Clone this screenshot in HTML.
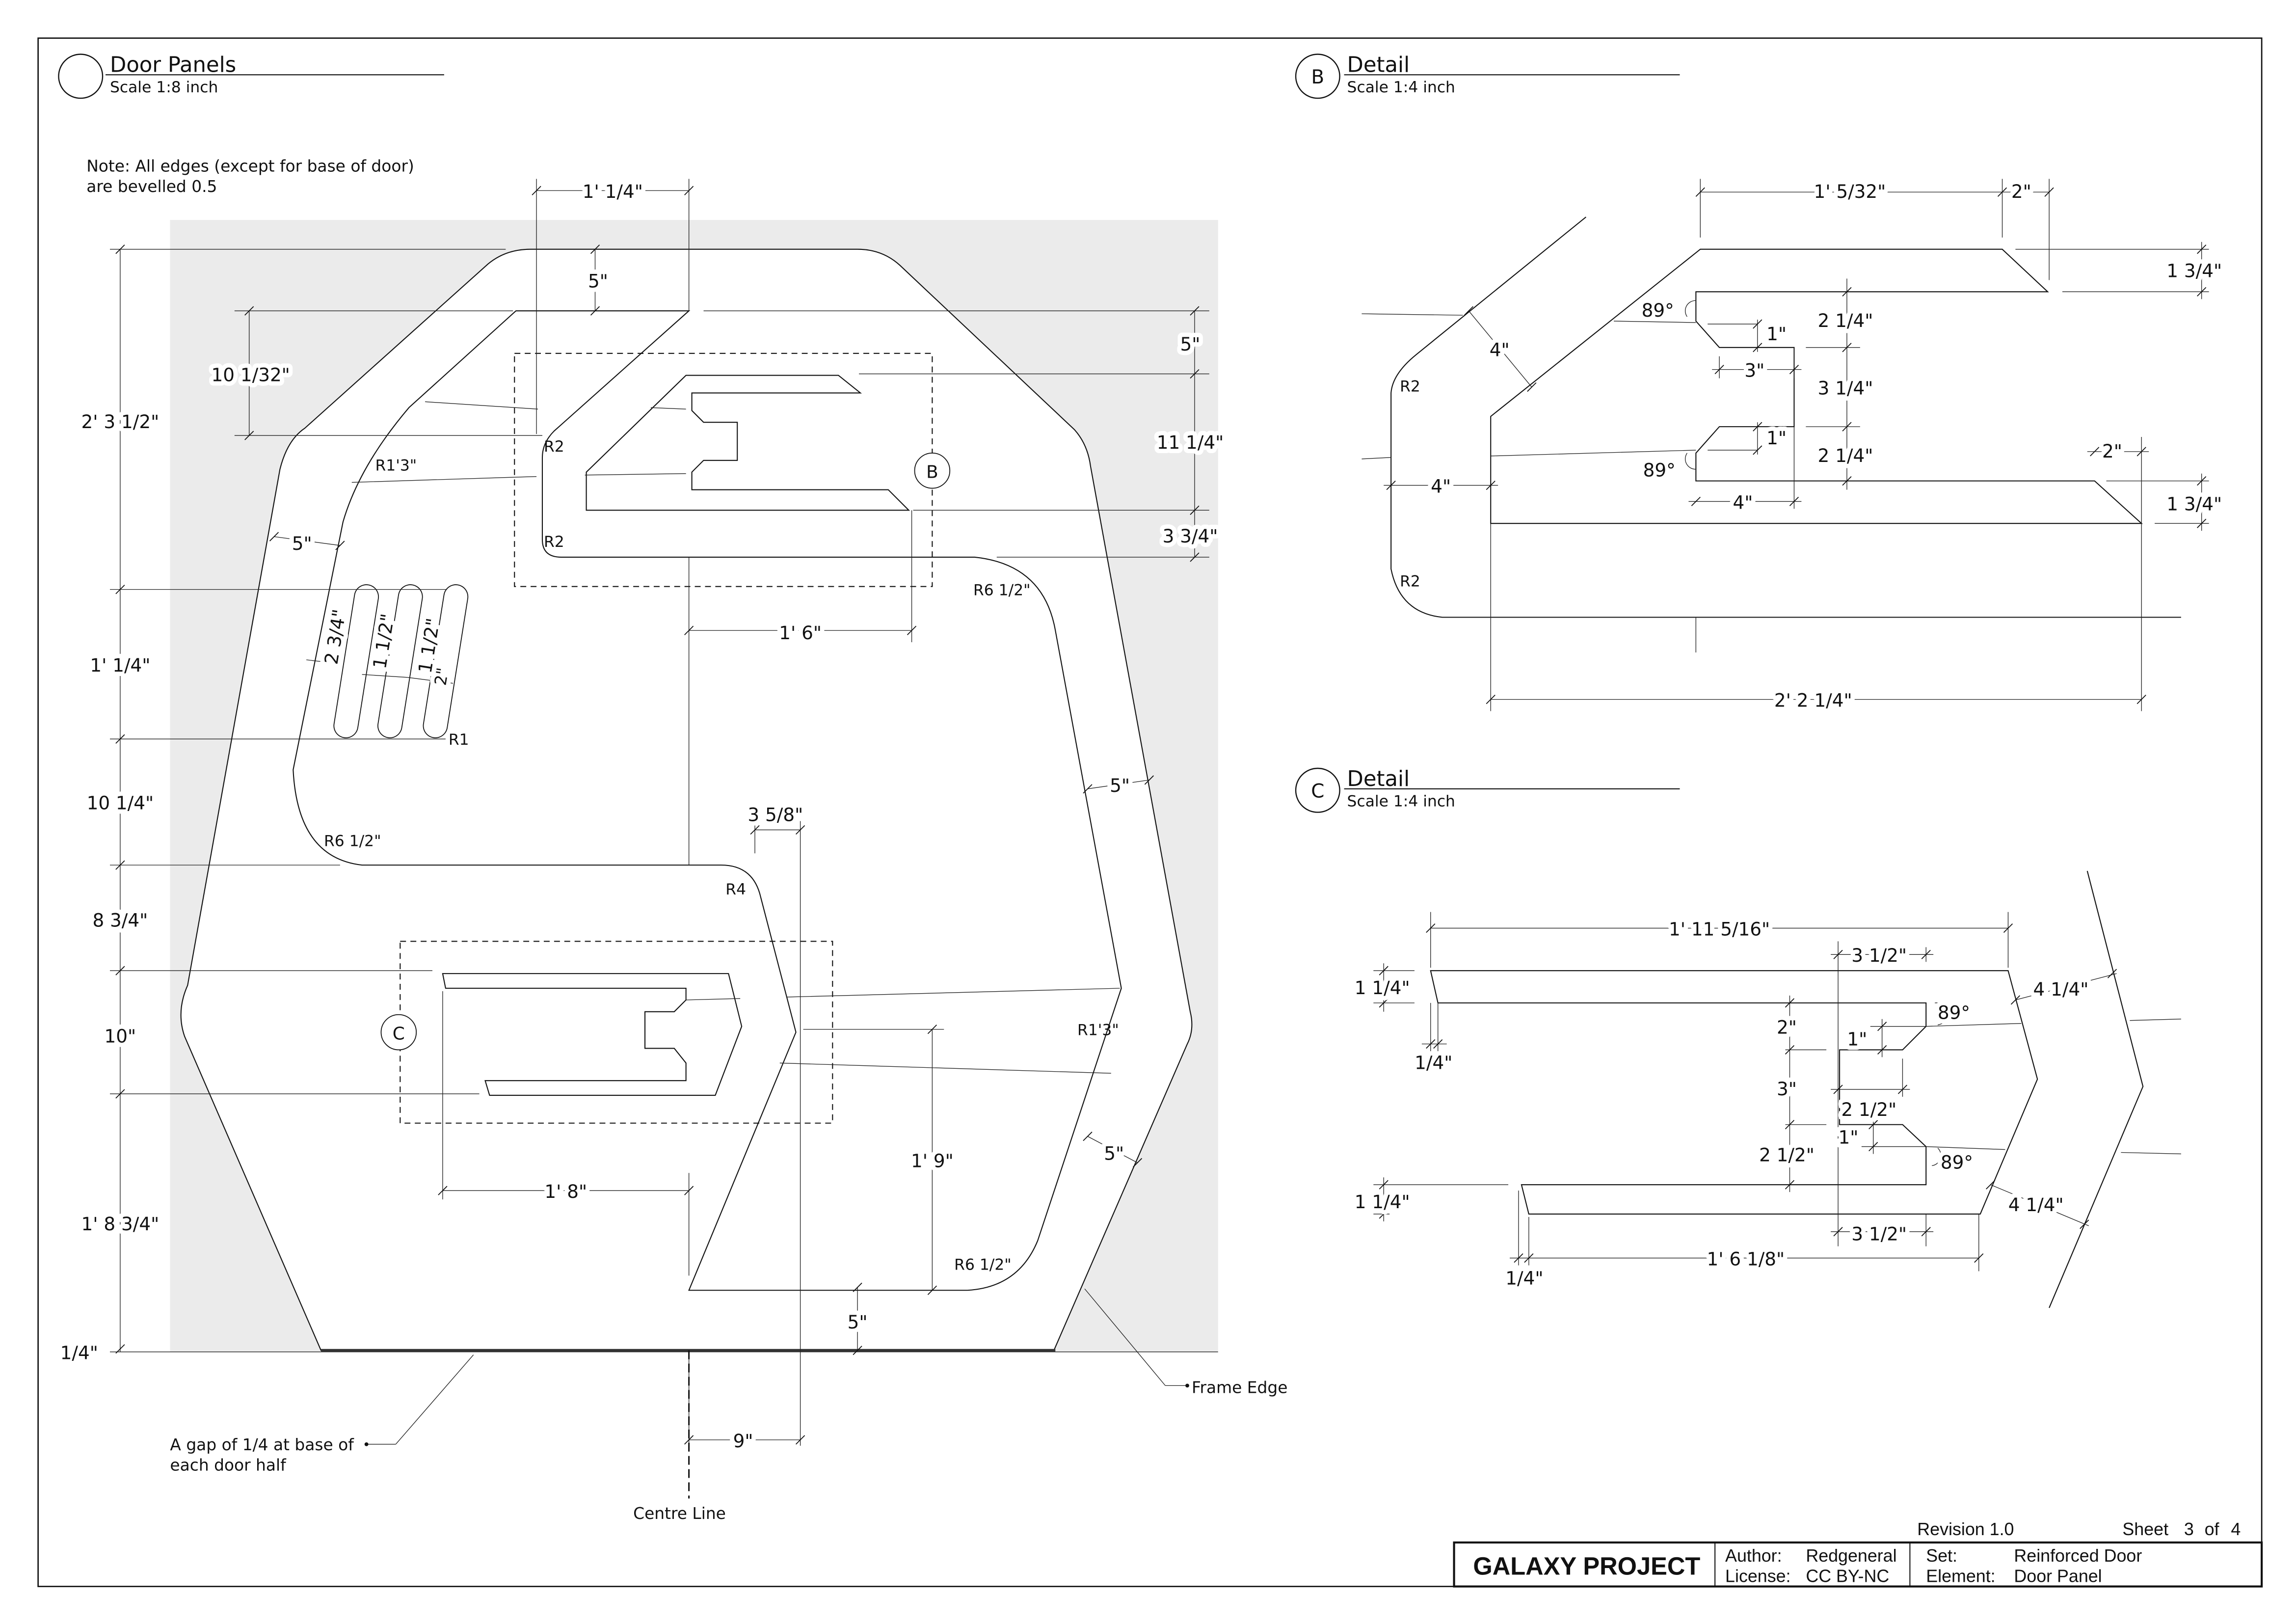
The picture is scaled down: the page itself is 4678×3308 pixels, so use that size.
<!DOCTYPE html>
<html><head><meta charset="utf-8"><style>
html,body{margin:0;padding:0;background:#fff;overflow:hidden}
svg{display:block}
text{font-family:"DejaVu Sans","Liberation Sans",sans-serif;fill:#111}
.d{font-size:12.5px;text-anchor:middle;paint-order:stroke;stroke:#fff;stroke-width:6px;stroke-linejoin:round}
.r{font-size:10.5px}
.l{fill:none;stroke:#111;stroke-width:0.7}
.e{fill:none;stroke:#222;stroke-width:0.45}
.tb{font-family:"Liberation Sans",sans-serif;font-size:12px}
</style></head><body>
<svg width="4678" height="3308" viewBox="0 0 1566.4 1107.6" preserveAspectRatio="none" xmlns="http://www.w3.org/2000/svg">
<defs><g id="t"><line x1="-3" y1="3" x2="3" y2="-3" stroke="#111" stroke-width="0.6"/></g></defs>
<rect x="0" y="0" width="1570" height="1110" fill="#fff"/>
<rect x="26" y="26" width="1517" height="1056" fill="none" stroke="#111" stroke-width="0.9"/>

<!-- Headers -->
<circle cx="55" cy="52" r="15" fill="none" stroke="#111" stroke-width="0.8"/>
<text x="75" y="49" font-size="14.5">Door Panels</text>
<line x1="72" y1="51" x2="303" y2="51" class="l"/>
<text x="75" y="63" font-size="10.5">Scale 1:8 inch</text>
<circle cx="899" cy="52" r="15" fill="none" stroke="#111" stroke-width="0.8"/>
<text x="899" y="57" font-size="13" text-anchor="middle">B</text>
<text x="919" y="49" font-size="14.5">Detail</text>
<line x1="917" y1="51" x2="1146" y2="51" class="l"/>
<text x="919" y="63" font-size="10.5">Scale 1:4 inch</text>
<circle cx="899" cy="539" r="15" fill="none" stroke="#111" stroke-width="0.8"/>
<text x="899" y="544" font-size="13" text-anchor="middle">C</text>
<text x="919" y="536" font-size="14.5">Detail</text>
<line x1="917" y1="538" x2="1146" y2="538" class="l"/>
<text x="919" y="550" font-size="10.5">Scale 1:4 inch</text>

<text x="59" y="117" font-size="11">Note: All edges (except for base of door)</text>
<text x="59" y="131" font-size="11">are bevelled 0.5</text>

<!-- Door main -->
<rect x="116" y="150" width="715" height="772" fill="#ebebeb"/>
<line x1="75" y1="922" x2="831" y2="922" class="e"/>
<path class="l" d="M219,921 L126,707 Q120,690 128,672 L191,320 Q196,300 208,292 L333,180 Q345,170 362,170 L585,170 Q602,170 614,181 L733,293 Q742,303 744,318 L812,690 Q815,702 810,712 L719,921 Z" style="fill:#fff"/>
<line x1="219" y1="921" x2="720" y2="921" stroke="#333" stroke-width="2"/>
<path class="l" d="M352,212 L470,212 L378,294 Q370,302 370,312 L370,368 Q370,380 383,380 L665,380 Q712,385 720,430 L765,674 L708,846 Q695,878 660,880 L470,880 L543,704 L519,612 Q514,590 492,590 L247,590 Q203,585 200,525 L234,356 Q245,318 279,278 Z"/>
<path class="l" d="M400,348 L400,322 L468,256 L572,256 L587,268 L472,268 L472,280 L480,288 L503,288 L503,314 L480,314 L472,322 L472,334 L606,334 L620,348 Z"/>
<path class="l" d="M302,664 L497,664 L506,700 L488,747 L334,747 L331,737 L468,737 L468,725 L460,715 L440,715 L440,690 L460,690 L468,682 L468,674 L304,674 Z"/>
<g stroke-linecap="round">
<line x1="250" y1="407" x2="236" y2="495" stroke="#111" stroke-width="17"/>
<line x1="280" y1="407" x2="266" y2="495" stroke="#111" stroke-width="17"/>
<line x1="311" y1="407" x2="297" y2="495" stroke="#111" stroke-width="17"/>
<line x1="250" y1="407" x2="236" y2="495" stroke="#fff" stroke-width="15.8"/>
<line x1="280" y1="407" x2="266" y2="495" stroke="#fff" stroke-width="15.8"/>
<line x1="311" y1="407" x2="297" y2="495" stroke="#fff" stroke-width="15.8"/>
</g>
<rect x="351" y="241" width="285" height="159" fill="none" stroke="#111" stroke-width="0.7" stroke-dasharray="4,3"/>
<rect x="273" y="642" width="295" height="124" fill="none" stroke="#111" stroke-width="0.7" stroke-dasharray="4,3"/>
<circle cx="636" cy="321" r="12" fill="#fff" stroke="#111" stroke-width="0.6"/>
<text x="636" y="326" font-size="12" text-anchor="middle" fill="#444">B</text>
<circle cx="272" cy="704" r="12" fill="#fff" stroke="#111" stroke-width="0.6"/>
<text x="272" y="709" font-size="12" text-anchor="middle" fill="#444">C</text>

<g class="e">
<line x1="75" y1="170" x2="345" y2="170"/>
<line x1="75" y1="402" x2="305" y2="402"/>
<line x1="75" y1="504" x2="304" y2="504"/>
<line x1="75" y1="590" x2="232" y2="590"/>
<line x1="75" y1="662" x2="295" y2="662"/>
<line x1="75" y1="746" x2="327" y2="746"/>
<line x1="82" y1="170" x2="82" y2="922"/>
<line x1="366" y1="122" x2="366" y2="296"/>
<line x1="470" y1="122" x2="470" y2="212"/>
<line x1="366" y1="130" x2="470" y2="130"/>
<line x1="406" y1="170" x2="406" y2="212"/>
<line x1="160" y1="212" x2="350" y2="212"/>
<line x1="480" y1="212" x2="825" y2="212"/>
<line x1="160" y1="297" x2="370" y2="297"/>
<line x1="170" y1="212" x2="170" y2="297"/>
<line x1="586" y1="255" x2="825" y2="255"/>
<line x1="623" y1="348" x2="825" y2="348"/>
<line x1="680" y1="380" x2="825" y2="380"/>
<line x1="815" y1="212" x2="815" y2="380"/>
<line x1="470" y1="380" x2="470" y2="590"/>
<line x1="470" y1="430" x2="622" y2="430"/>
<line x1="622" y1="348" x2="622" y2="438"/>
<line x1="290" y1="274" x2="367" y2="279"/>
<line x1="444" y1="278" x2="468" y2="279"/>
<line x1="240" y1="329" x2="366" y2="325"/>
<line x1="399" y1="324" x2="468" y2="323"/>
<line x1="515" y1="562" x2="515" y2="582"/>
<line x1="546" y1="560" x2="546" y2="986"/>
<line x1="515" y1="566" x2="546" y2="566"/>
<line x1="468" y1="682" x2="505" y2="681"/>
<line x1="537" y1="680" x2="764" y2="674"/>
<line x1="532" y1="725" x2="758" y2="732"/>
<line x1="548" y1="702" x2="644" y2="702"/>
<line x1="636" y1="702" x2="636" y2="880"/>
<line x1="302" y1="676" x2="302" y2="818"/>
<line x1="470" y1="800" x2="470" y2="870"/>
<line x1="302" y1="812" x2="470" y2="812"/>
<line x1="585" y1="878" x2="585" y2="921"/>
<line x1="470" y1="921" x2="470" y2="990"/>
<line x1="470" y1="982" x2="546" y2="982"/>
<line x1="187" y1="366" x2="232" y2="372"/>
<line x1="742" y1="538" x2="784" y2="532"/>
<line x1="742" y1="775" x2="776" y2="793"/>
<line x1="740" y1="879" x2="795" y2="945"/>
<line x1="795" y1="945" x2="810" y2="945"/>
<line x1="323" y1="924" x2="270" y2="985"/>
<line x1="270" y1="985" x2="250" y2="985"/>
<line x1="209" y1="450" x2="226" y2="452"/>
<line x1="247" y1="460" x2="278" y2="462"/>
<line x1="278" y1="462" x2="309" y2="466"/>
</g>
<line x1="470" y1="921" x2="470" y2="1022" stroke="#111" stroke-width="1" stroke-dasharray="6,3"/>
<circle cx="250" cy="985" r="1.3" fill="#111"/>
<circle cx="810" cy="945" r="1.3" fill="#111"/>
<g>
<use href="#t" x="82" y="170"/><use href="#t" x="82" y="402"/><use href="#t" x="82" y="504"/><use href="#t" x="82" y="590"/><use href="#t" x="82" y="662"/><use href="#t" x="82" y="746"/><use href="#t" x="82" y="920"/>
<use href="#t" x="366" y="130"/><use href="#t" x="470" y="130"/><use href="#t" x="406" y="170"/><use href="#t" x="406" y="212"/>
<use href="#t" x="170" y="212"/><use href="#t" x="170" y="297"/>
<use href="#t" x="815" y="212"/><use href="#t" x="815" y="255"/><use href="#t" x="815" y="348"/><use href="#t" x="815" y="380"/>
<use href="#t" x="470" y="430"/><use href="#t" x="622" y="430"/>
<use href="#t" x="515" y="566"/><use href="#t" x="546" y="566"/>
<use href="#t" x="302" y="812"/><use href="#t" x="470" y="812"/>
<use href="#t" x="636" y="702"/><use href="#t" x="636" y="880"/>
<use href="#t" x="585" y="878"/><use href="#t" x="585" y="921"/>
<use href="#t" x="470" y="982"/><use href="#t" x="546" y="982"/>
<use href="#t" x="187" y="366"/><use href="#t" x="232" y="372"/>
<use href="#t" x="742" y="538"/><use href="#t" x="784" y="532"/>
<use href="#t" x="742" y="775"/><use href="#t" x="776" y="793"/>
</g>
<g class="d">
<text x="418" y="135">1' 1/4"</text>
<text x="408" y="196">5"</text>
<text x="171" y="260">10 1/32"</text>
<text x="82" y="292">2' 3 1/2"</text>
<text x="82" y="458">1' 1/4"</text>
<text x="82" y="552">10 1/4"</text>
<text x="82" y="632">8 3/4"</text>
<text x="82" y="711">10"</text>
<text x="82" y="839">1' 8 3/4"</text>
<text x="54" y="927">1/4"</text>
<text x="812" y="239">5"</text>
<text x="812" y="306">11 1/4"</text>
<text x="812" y="370">3 3/4"</text>
<text x="546" y="436">1' 6"</text>
<text x="529" y="560">3 5/8"</text>
<text x="386" y="817">1' 8"</text>
<text x="636" y="796">1' 9"</text>
<text x="585" y="906">5"</text>
<text x="507" y="987">9"</text>
<text x="206" y="375">5"</text>
<text x="764" y="540">5"</text>
<text x="760" y="791">5"</text>
<text transform="translate(233,435) rotate(-81)">2 3/4"</text>
<text transform="translate(266,438) rotate(-81)">1 1/2"</text>
<text transform="translate(297,441) rotate(-81)">1 1/2"</text>
<text transform="translate(305,462) rotate(-81)" font-size="11">2"</text>
</g>
<g class="r">
<text x="371" y="308">R2</text>
<text x="371" y="373">R2</text>
<text x="256" y="321">R1'3"</text>
<text x="664" y="406">R6 1/2"</text>
<text x="306" y="508">R1</text>
<text x="221" y="577">R6 1/2"</text>
<text x="495" y="610">R4</text>
<text x="735" y="706">R1'3"</text>
<text x="651" y="866">R6 1/2"</text>
<text x="813" y="950" font-size="11">Frame Edge</text>
<text x="116" y="989" font-size="11">A gap of 1/4 at base of</text>
<text x="116" y="1003" font-size="11">each door half</text>
<text x="432" y="1036" font-size="11">Centre Line</text>
</g>

<!-- Detail B -->
<path class="l" d="M1082,148 L966,242 Q950,255 949,268 L949,388 Q955,418 984,421 L1488,421"/>
<path class="l" d="M1017,357 L1017,284 L1160,170 L1366,170 L1397,199 L1157,199 L1157,219 L1173,237 L1224,237 L1224,291 L1173,291 L1157,309 L1157,328 L1429,328 L1461,357 Z"/>
<g class="e">
<line x1="929" y1="214" x2="998" y2="215"/>
<line x1="1101" y1="219" x2="1157" y2="220"/>
<line x1="929" y1="313" x2="949" y2="312"/>
<line x1="1017" y1="311" x2="1157" y2="307"/>
<line x1="1165" y1="221" x2="1199" y2="221"/>
<line x1="1165" y1="307" x2="1199" y2="307"/>
<line x1="1160" y1="122" x2="1160" y2="162"/>
<line x1="1366" y1="122" x2="1366" y2="162"/>
<line x1="1398" y1="122" x2="1398" y2="191"/>
<line x1="1160" y1="131" x2="1398" y2="131"/>
<line x1="1375" y1="170" x2="1507" y2="170"/>
<line x1="1407" y1="199" x2="1507" y2="199"/>
<line x1="1502" y1="165" x2="1502" y2="204"/>
<line x1="1437" y1="328" x2="1507" y2="328"/>
<line x1="1470" y1="357" x2="1507" y2="357"/>
<line x1="1502" y1="323" x2="1502" y2="362"/>
<line x1="1461" y1="298" x2="1461" y2="485"/>
<line x1="1424" y1="308" x2="1466" y2="308"/>
<line x1="1260" y1="190" x2="1260" y2="334"/>
<line x1="1232" y1="237" x2="1269" y2="237"/>
<line x1="1232" y1="291" x2="1269" y2="291"/>
<line x1="1199" y1="218" x2="1199" y2="240"/>
<line x1="1199" y1="288" x2="1199" y2="310"/>
<line x1="1173" y1="243" x2="1173" y2="258"/>
<line x1="1224" y1="237" x2="1224" y2="258"/>
<line x1="1168" y1="252" x2="1229" y2="252"/>
<line x1="1224" y1="291" x2="1224" y2="347"/>
<line x1="1152" y1="342" x2="1229" y2="342"/>
<line x1="944" y1="331" x2="1022" y2="331"/>
<line x1="1002" y1="212" x2="1045" y2="264"/>
<line x1="1017" y1="357" x2="1017" y2="485"/>
<line x1="1017" y1="477" x2="1461" y2="477"/>
<line x1="1157" y1="421" x2="1157" y2="445"/>
</g>
<path d="M1157,205 A7,7 0 0 0 1151,216" class="e"/>
<path d="M1151,309 A7,7 0 0 0 1157,320" class="e"/>
<g>
<use href="#t" x="1160" y="131"/><use href="#t" x="1366" y="131"/><use href="#t" x="1398" y="131"/>
<use href="#t" x="1502" y="170"/><use href="#t" x="1502" y="199"/><use href="#t" x="1502" y="328"/><use href="#t" x="1502" y="357"/>
<use href="#t" x="1429" y="308"/><use href="#t" x="1461" y="308"/>
<use href="#t" x="1260" y="199"/><use href="#t" x="1260" y="237"/><use href="#t" x="1260" y="291"/><use href="#t" x="1260" y="328"/>
<use href="#t" x="1199" y="221"/><use href="#t" x="1199" y="237"/><use href="#t" x="1199" y="291"/><use href="#t" x="1199" y="307"/>
<use href="#t" x="1173" y="252"/><use href="#t" x="1224" y="252"/>
<use href="#t" x="1157" y="342"/><use href="#t" x="1224" y="342"/>
<use href="#t" x="949" y="331"/><use href="#t" x="1017" y="331"/>
<use href="#t" x="1002" y="212"/><use href="#t" x="1045" y="264"/>
<use href="#t" x="1017" y="477"/><use href="#t" x="1461" y="477"/>
</g>
<g class="d">
<text x="1262" y="135">1' 5/32"</text>
<text x="1379" y="135">2"</text>
<text x="1497" y="189">1 3/4"</text>
<text x="1497" y="348">1 3/4"</text>
<text x="1441" y="312">2"</text>
<text x="1259" y="223">2 1/4"</text>
<text x="1259" y="269">3 1/4"</text>
<text x="1259" y="315">2 1/4"</text>
<text x="1212" y="232">1"</text>
<text x="1212" y="303">1"</text>
<text x="1197" y="257">3"</text>
<text x="1189" y="347">4"</text>
<text x="983" y="336">4"</text>
<text x="1023" y="243">4"</text>
<text x="1237" y="482">2' 2 1/4"</text>
<text x="1131" y="216">89°</text>
<text x="1132" y="325">89°</text>
</g>
<text x="955" y="267" class="r">R2</text>
<text x="955" y="400" class="r">R2</text>

<!-- Detail C -->
<path class="l" d="M976,662 L1370,662 L1390,736 L1351,828 L1043,828 L1038,808 L1314,808 L1314,782 L1298,767 L1255,767 L1255,716 L1298,716 L1314,700 L1314,684 L981,684 Z"/>
<path class="l" d="M1424,594 L1462,741 L1398,892"/>
<g class="e">
<line x1="1453" y1="696" x2="1488" y2="695"/>
<line x1="1447" y1="786" x2="1488" y2="787"/>
<line x1="1314" y1="700" x2="1379" y2="698"/>
<line x1="1314" y1="782" x2="1368" y2="784"/>
<line x1="976" y1="622" x2="976" y2="660"/>
<line x1="1370" y1="622" x2="1370" y2="660"/>
<line x1="976" y1="633" x2="1370" y2="633"/>
<line x1="937" y1="662" x2="965" y2="662"/>
<line x1="937" y1="684" x2="965" y2="684"/>
<line x1="944" y1="657" x2="944" y2="690"/>
<line x1="976" y1="684" x2="976" y2="717"/>
<line x1="981" y1="684" x2="981" y2="717"/>
<line x1="970" y1="712" x2="987" y2="712"/>
<line x1="1254" y1="642" x2="1254" y2="850"/>
<line x1="1314" y1="646" x2="1314" y2="656"/>
<line x1="1249" y1="651" x2="1319" y2="651"/>
<line x1="1221" y1="679" x2="1221" y2="813"/>
<line x1="1218" y1="716" x2="1246" y2="716"/>
<line x1="1218" y1="767" x2="1246" y2="767"/>
<line x1="1276" y1="700" x2="1314" y2="700"/>
<line x1="1284" y1="695" x2="1284" y2="721"/>
<line x1="1298" y1="722" x2="1298" y2="748"/>
<line x1="1249" y1="743" x2="1303" y2="743"/>
<line x1="1270" y1="782" x2="1314" y2="782"/>
<line x1="1278" y1="762" x2="1278" y2="787"/>
<line x1="1314" y1="828" x2="1314" y2="850"/>
<line x1="1249" y1="840" x2="1319" y2="840"/>
<line x1="937" y1="808" x2="1029" y2="808"/>
<line x1="937" y1="828" x2="948" y2="828"/>
<line x1="944" y1="803" x2="944" y2="833"/>
<line x1="1036" y1="812" x2="1036" y2="863"/>
<line x1="1043" y1="830" x2="1043" y2="863"/>
<line x1="1030" y1="858" x2="1350" y2="858"/>
<line x1="1350" y1="828" x2="1350" y2="867"/>
<line x1="1375" y1="682" x2="1444" y2="664"/>
<line x1="1358" y1="808" x2="1425" y2="836"/>
</g>
<path d="M1320,684 A7,7 0 0 1 1322,699" class="e"/>
<path d="M1322,783 A7,7 0 0 1 1318,795" class="e"/>
<g>
<use href="#t" x="976" y="633"/><use href="#t" x="1370" y="633"/>
<use href="#t" x="944" y="662"/><use href="#t" x="944" y="684"/>
<use href="#t" x="976" y="712"/><use href="#t" x="981" y="712"/>
<use href="#t" x="1254" y="651"/><use href="#t" x="1314" y="651"/>
<use href="#t" x="1221" y="684"/><use href="#t" x="1221" y="716"/><use href="#t" x="1221" y="767"/><use href="#t" x="1221" y="808"/>
<use href="#t" x="1284" y="700"/><use href="#t" x="1284" y="716"/>
<use href="#t" x="1254" y="743"/><use href="#t" x="1298" y="743"/>
<use href="#t" x="1278" y="767"/><use href="#t" x="1278" y="782"/>
<use href="#t" x="1254" y="840"/><use href="#t" x="1314" y="840"/>
<use href="#t" x="944" y="808"/><use href="#t" x="944" y="828"/>
<use href="#t" x="1036" y="858"/><use href="#t" x="1043" y="858"/><use href="#t" x="1350" y="858"/>
<use href="#t" x="1375" y="682"/><use href="#t" x="1441" y="664"/>
<use href="#t" x="1358" y="808"/><use href="#t" x="1422" y="835"/>
</g>
<g class="d">
<text x="1173" y="638">1' 11 5/16"</text>
<text x="943" y="678">1 1/4"</text>
<text x="978" y="729">1/4"</text>
<text x="1282" y="656">3 1/2"</text>
<text x="1219" y="705">2"</text>
<text x="1219" y="747">3"</text>
<text x="1219" y="792">2 1/2"</text>
<text x="1267" y="713">1"</text>
<text x="1275" y="761">2 1/2"</text>
<text x="1261" y="780">1"</text>
<text x="1282" y="846">3 1/2"</text>
<text x="943" y="824">1 1/4"</text>
<text x="1040" y="876">1/4"</text>
<text x="1191" y="863">1' 6 1/8"</text>
<text x="1406" y="679">4 1/4"</text>
<text x="1389" y="826">4 1/4"</text>
<text x="1333" y="695">89°</text>
<text x="1335" y="797">89°</text>
</g>

<!-- Title block -->
<text x="1308" y="1047" class="tb">Revision  1.0</text>
<text x="1448" y="1047" class="tb">Sheet</text>
<text x="1490" y="1047" class="tb">3</text>
<text x="1504" y="1047" class="tb">of</text>
<text x="1522" y="1047" class="tb">4</text>
<rect x="992" y="1052" width="551" height="30" fill="none" stroke="#111" stroke-width="1.4"/>
<line x1="1170" y1="1052" x2="1170" y2="1082" stroke="#111" stroke-width="0.7"/>
<line x1="1303" y1="1052" x2="1303" y2="1082" stroke="#111" stroke-width="0.7"/>
<text x="1005" y="1074" font-size="17" font-weight="bold" style="font-family:'Liberation Sans',sans-serif" textLength="155" lengthAdjust="spacingAndGlyphs">GALAXY PROJECT</text>
<text x="1177" y="1065" class="tb">Author:</text>
<text x="1232" y="1065" class="tb">Redgeneral</text>
<text x="1177" y="1079" class="tb">License:</text>
<text x="1232" y="1079" class="tb">CC BY-NC</text>
<text x="1314" y="1065" class="tb">Set:</text>
<text x="1374" y="1065" class="tb">Reinforced Door</text>
<text x="1314" y="1079" class="tb">Element:</text>
<text x="1374" y="1079" class="tb">Door Panel</text>
</svg>
</body></html>
